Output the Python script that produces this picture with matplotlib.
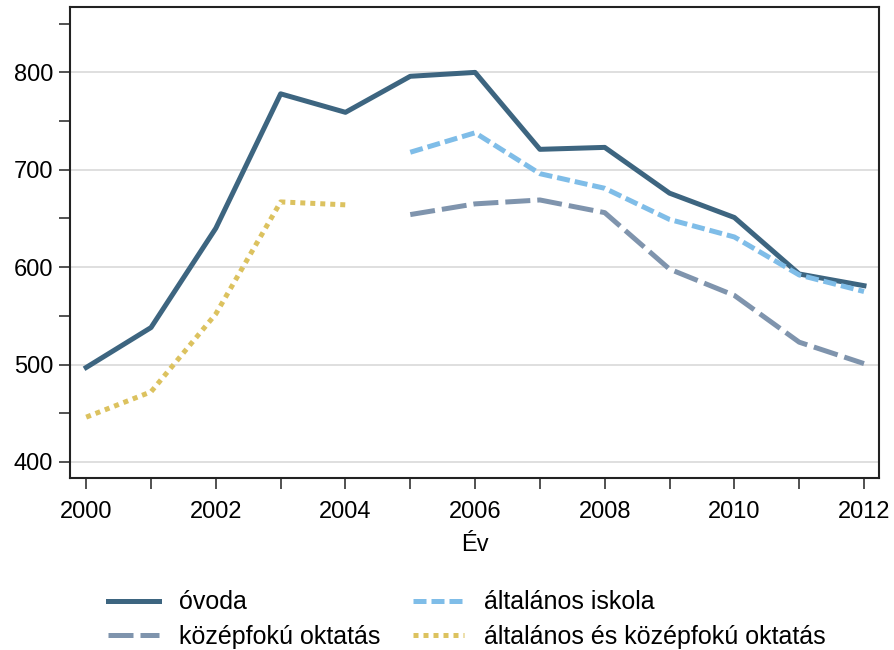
import matplotlib.pyplot as plt
from matplotlib.ticker import MultipleLocator

plt.rcParams['font.family'] = ['Liberation Sans', 'DejaVu Sans']

# adatok
ev_ovoda = [2000, 2001, 2002, 2003, 2004, 2005, 2006, 2007, 2008, 2009, 2010, 2011, 2012]
ovoda = [497, 538, 640, 778, 759, 796, 800, 721, 723, 676, 651, 593, 581]

ev_alt = [2005, 2006, 2007, 2008, 2009, 2010, 2011, 2012]
altalanos = [718, 738, 696, 681, 649, 631, 592, 575]

ev_kozep = [2005, 2006, 2007, 2008, 2009, 2010, 2011, 2012]
kozepfoku = [654, 665, 669, 656, 598, 571, 523, 501]

ev_alt_kozep = [2000, 2001, 2002, 2003, 2004]
alt_kozep = [446, 472, 552, 667, 664]

fig = plt.figure(figsize=(8.95, 6.5), dpi=100)
ax = fig.add_axes([0.0782, 0.2646, 0.9038, 0.7244])

lw = 3.6
l1, = ax.plot(ev_ovoda, ovoda, color='#3d6580', lw=lw, label='óvoda', zorder=3)
l2, = ax.plot(ev_alt, altalanos, color='#7fbde8', lw=lw, dashes=(2.6, 1.0),
              label='általános iskola', zorder=4)
l3, = ax.plot(ev_kozep, kozepfoku, color='#7f94ad', lw=lw, dashes=(5, 1.4),
              label='középfokú oktatás', zorder=3)
l4, = ax.plot(ev_alt_kozep, alt_kozep, color='#dcc25f', lw=lw, dashes=(1, 1),
              dash_capstyle='butt', label='általános és középfokú oktatás', zorder=3)

ax.set_xlim(1999.75, 2012.23)
ax.set_ylim(383.5, 867)
ax.xaxis.set_major_locator(MultipleLocator(2))
ax.xaxis.set_minor_locator(MultipleLocator(1))
ax.yaxis.set_major_locator(MultipleLocator(100))
ax.yaxis.set_minor_locator(MultipleLocator(50))
ax.set_yticks([400, 500, 600, 700, 800])
ax.tick_params(which='both', direction='out', length=8, width=1.1, color='#222222',
               labelsize=17)
ax.tick_params(axis='x', pad=8.5)
ax.tick_params(axis='y', pad=4)
ax.grid(True, axis='y', which='major', color='#d9d9d9', lw=1.2, zorder=0)

for s in ax.spines.values():
    s.set_color('#222222')
    s.set_linewidth(1.5)

ax.set_xlabel('Év', fontsize=17, labelpad=8)

# két oszlop: óvoda / középfokú, általános / általános és középfokú
fig.legend([l1, l3, l2, l4], [l.get_label() for l in (l1, l3, l2, l4)],
           loc='upper left', bbox_to_anchor=(0.1096, 0.107), ncol=2, frameon=False,
           fontsize=18, handlelength=2.05, handletextpad=0.8, columnspacing=1.3,
           labelspacing=0.42, borderaxespad=0)

fig.savefig('out.png', dpi=100)
